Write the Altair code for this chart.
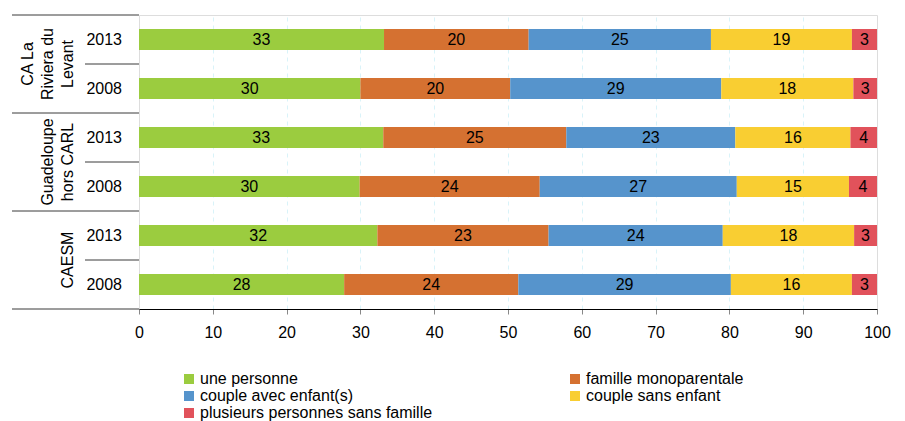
import altair as alt
import pandas as pd

# Household structure (% of households) by territory and census year
groups = ["CA La Riviera du Levant", "Guadeloupe hors CARL", "CAESM"]
group_lines = [["CA La", "Riviera du", "Levant"], ["Guadeloupe", "hors CARL"], ["CAESM"]]
years = ["2013", "2008"]
categories = [
    "une personne",
    "famille monoparentale",
    "couple avec enfant(s)",
    "couple sans enfant",
    "plusieurs personnes sans famille",
]
colors = ["#9BCC3F", "#D57131", "#5694CC", "#F9CE32", "#E1525B"]

carl_2013 = [33.2, 19.6, 24.7, 19.1, 3.4]
carl_2008 = [30.0, 20.3, 28.6, 17.9, 3.2]
guad_2013 = [33.1, 24.8, 22.9, 15.6, 3.6]
guad_2008 = [29.9, 24.4, 26.7, 15.2, 3.8]
caesm_2013 = [32.3, 23.2, 23.6, 17.8, 3.1]
caesm_2008 = [27.8, 23.6, 28.8, 16.4, 3.4]

series = [carl_2013, carl_2008, guad_2013, guad_2008, caesm_2013, caesm_2008]
rows = [f"{g}|{y}" for g in groups for y in years]

records = []
for row, values in zip(rows, series):
    for k, (cat, v) in enumerate(zip(categories, values)):
        records.append({"row": row, "cat": cat, "k": k, "value": v})
df = pd.DataFrame(records)

FONT = "Liberation Sans"
ink = "#3a3a3a"

yscale = alt.Scale(domain=rows, paddingInner=0, paddingOuter=0)

stacked = alt.Chart(df).transform_stack(
    stack="value", as_=["x0", "x1"], groupby=["row"], sort=[alt.SortField("k")]
).transform_calculate(mid="(datum.x0 + datum.x1) / 2")

bars = stacked.mark_bar(size=21).encode(
    x=alt.X(
        "x0:Q",
        scale=alt.Scale(domain=[0, 100], nice=False),
        axis=alt.Axis(
            values=list(range(0, 101, 10)),
            title=None,
            grid=True,
            gridColor="#d9f3f9",
            gridDash=[4, 4],
            gridOpacity={"condition": {"test": "datum.value == 0 || datum.value == 100", "value": 0}, "value": 1},
            domainColor="black",
            tickColor="#888888",
            tickSize=5,
            labelFlush=False,
            labelPadding=10,
            labelFontSize=16,
            labelColor="black",
            labelFont=FONT,
        ),
    ),
    x2="x1:Q",
    y=alt.Y(
        "row:N",
        scale=yscale,
        axis=alt.Axis(title=None, ticks=False, labels=False, domainColor="black"),
    ),
    color=alt.Color(
        "cat:N",
        scale=alt.Scale(domain=categories, range=colors),
        legend=alt.Legend(
            title=None,
            orient="none",
            direction="horizontal",
            legendX=42,
            legendY=356,
            columns=2,
            columnPadding=134,
            rowPadding=1,
            padding=0,
            symbolType="square",
            symbolSize=100,
            symbolStrokeWidth=0,
            labelOffset=3,
            labelLimit=400,
            labelFontSize=16,
            labelColor="black",
            labelFont=FONT,
        ),
    ),
    order=alt.Order("k:Q"),
)

labels = stacked.mark_text(fontSize=16, font=FONT, color="black", baseline="middle").encode(
    x=alt.X("mid:Q"),
    y=alt.Y("row:N", scale=yscale, axis=None),
    text=alt.Text("value:Q", format=".0f"),
)

# inner level of the category axis: census years
year_df = pd.DataFrame({"row": rows, "year": [r.split("|")[1] for r in rows]})
year_labels = alt.Chart(year_df).mark_text(
    align="right", baseline="middle", fontSize=16, font=FONT, color="black"
).encode(
    y=alt.Y("row:N", scale=yscale, axis=None),
    x=alt.value(-17),
    text="year:N",
)

# separator lines of the two-level category axis
group_tops = pd.DataFrame({"row": [rows[0], rows[2], rows[4]]})
year_tops = pd.DataFrame({"row": [rows[1], rows[3], rows[5]]})
last_row = pd.DataFrame({"row": [rows[5]]})

full_rules = alt.Chart(group_tops).mark_rule(color=ink, strokeWidth=1).encode(
    y=alt.Y("row:N", scale=yscale, axis=None, bandPosition=0),
    x=alt.value(-127),
    x2=alt.value(0),
)
short_rules = alt.Chart(year_tops).mark_rule(color=ink, strokeWidth=1).encode(
    y=alt.Y("row:N", scale=yscale, axis=None, bandPosition=0),
    x=alt.value(-54),
    x2=alt.value(0),
)
bottom_rule = alt.Chart(last_row).mark_rule(color=ink, strokeWidth=1).encode(
    y=alt.Y("row:N", scale=yscale, axis=None, bandPosition=1),
    x=alt.value(-127),
    x2=alt.value(0),
)

# outer level: territory names, rotated, stacked from the right edge
line_records = []
for g, lines in zip(range(len(groups)), group_lines):
    n = len(lines)
    for i, txt in enumerate(lines):
        line_records.append({"row": rows[2 * g], "line": txt, "from_end": n - 1 - i})
line_df = pd.DataFrame(line_records)

group_layers = []
for j in range(3):
    group_layers.append(
        alt.Chart(line_df).transform_filter(f"datum.from_end == {j}").mark_text(
            angle=270, align="center", baseline="alphabetic",
            fontSize=16, font=FONT, color="black",
        ).encode(
            y=alt.Y("row:N", scale=yscale, axis=None, bandPosition=1),
            x=alt.value(-66 - 20 * j),
            text="line:N",
        )
    )

chart = alt.layer(
    bars, labels, year_labels, full_rules, short_rules, bottom_rule, *group_layers
).properties(
    width=738,
    height=294,
    autosize="none",
    padding={"left": 139, "top": 15, "right": 28, "bottom": 112},
).configure_view(stroke=None).configure(font=FONT)

chart.save("out.html", embed_options={"renderer": "svg", "actions": False})
